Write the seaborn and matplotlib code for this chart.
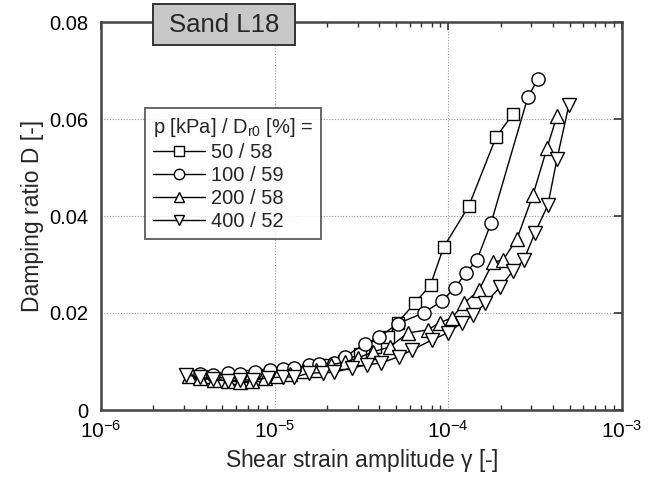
import matplotlib
matplotlib.use("Agg")
import matplotlib.pyplot as plt
from matplotlib.patches import Rectangle
import seaborn as sns
import pandas as pd
import numpy as np

# ---- data ----
labels = ["50 / 58", "100 / 59", "200 / 58", "400 / 52"]
markers = ["s", "o", "^", "v"]

x_50 = [3.4e-6, 4.3e-6, 5.5e-6, 6.8e-6, 8.5e-6, 1.05e-5, 1.3e-5, 1.6e-5, 2.0e-5, 2.5e-5,
        3.1e-5, 3.8e-5, 4.5e-5, 5.1e-5, 6.4e-5, 7.9e-5, 9.4e-5, 1.31e-4, 1.88e-4, 2.35e-4]
y_50 = [0.0070, 0.0068, 0.0065, 0.0070, 0.0072, 0.0075, 0.0080, 0.0085, 0.0092, 0.0102,
        0.0115, 0.0130, 0.0150, 0.0180, 0.0220, 0.0258, 0.0336, 0.0420, 0.0562, 0.0610]

x_100 = [3.7e-6, 4.4e-6, 5.4e-6, 6.3e-6, 7.7e-6, 9.4e-6, 1.12e-5, 1.3e-5, 1.58e-5, 1.8e-5,
         2.2e-5, 2.54e-5, 3.3e-5, 4.0e-5, 5.1e-5, 7.2e-5, 9.2e-5, 1.09e-4, 1.26e-4, 1.46e-4,
         1.76e-4, 2.87e-4, 3.28e-4]
y_100 = [0.0074, 0.0072, 0.0076, 0.0075, 0.0078, 0.0082, 0.0085, 0.0087, 0.0093, 0.0095,
         0.0097, 0.0110, 0.0136, 0.0150, 0.0178, 0.0200, 0.0225, 0.0252, 0.0282, 0.0309,
         0.0385, 0.0645, 0.0682]

x_200 = [3.2e-6, 3.7e-6, 4.5e-6, 5.4e-6, 6.3e-6, 7.4e-6, 8.8e-6, 1.03e-5, 1.22e-5, 1.45e-5,
         1.73e-5, 2.1e-5, 2.54e-5, 3.0e-5, 3.7e-5, 4.6e-5, 5.85e-5, 7.6e-5, 8.9e-5, 1.05e-4,
         1.23e-4, 1.5e-4, 1.81e-4, 2.06e-4, 2.48e-4, 3.07e-4, 3.7e-4, 4.22e-4]
y_200 = [0.0070, 0.0066, 0.0062, 0.0060, 0.0058, 0.0060, 0.0066, 0.0070, 0.0074, 0.0080,
         0.0082, 0.0093, 0.0099, 0.0107, 0.0120, 0.0130, 0.0159, 0.0165, 0.0180, 0.0190,
         0.0220, 0.0247, 0.0305, 0.0309, 0.0352, 0.0443, 0.0540, 0.0606]

x_400 = [3.1e-6, 3.7e-6, 4.4e-6, 5.4e-6, 6.3e-6, 7.5e-6, 9.1e-6, 1.12e-5, 1.3e-5, 1.58e-5,
         1.9e-5, 2.2e-5, 2.8e-5, 3.4e-5, 4.1e-5, 5.2e-5, 6.2e-5, 8.0e-5, 9.9e-5, 1.2e-4,
         1.39e-4, 1.63e-4, 1.98e-4, 2.35e-4, 2.72e-4, 3.15e-4, 3.74e-4, 4.22e-4, 4.94e-4]
y_400 = [0.0072, 0.0068, 0.0064, 0.0060, 0.0062, 0.0062, 0.0066, 0.0068, 0.0068, 0.0076,
         0.0077, 0.0078, 0.0087, 0.0093, 0.0097, 0.0110, 0.0124, 0.0144, 0.0159, 0.0180,
         0.0196, 0.0220, 0.0253, 0.0286, 0.0309, 0.0365, 0.0422, 0.0517, 0.0628]

series = [(x_50, y_50), (x_100, y_100), (x_200, y_200), (x_400, y_400)]
msizes = {"s": 9.0, "o": 9.5, "^": 10.5, "v": 10.5}

sns.set_theme(style="white")
plt.rcParams["font.family"] = ["Liberation Sans", "DejaVu Sans"]
plt.rcParams["mathtext.fontset"] = "custom"
plt.rcParams["mathtext.rm"] = "Liberation Sans"
plt.rcParams["mathtext.it"] = "Liberation Sans"

fig = plt.figure(figsize=(6.56, 4.79), dpi=100)
ax = fig.add_axes([101 / 656, 69 / 479, 521 / 656, 388 / 479])

for (xs, ys), lab, mk in zip(series, labels, markers):
    df = pd.DataFrame({"x": xs, "y": ys})
    sns.lineplot(data=df, x="x", y="y", ax=ax, color="black", linewidth=1.0,
                 marker=mk, markersize=msizes[mk],
                 markerfacecolor="white", markeredgecolor="black",
                 markeredgewidth=1.0, estimator=None, sort=False, label=lab)

ax.set_xscale("log")
ax.set_xlim(1e-6, 1e-3)
ax.set_ylim(0, 0.08)
ax.set_yticks([0, 0.02, 0.04, 0.06, 0.08])
ax.set_yticklabels(["0", "0.02", "0.04", "0.06", "0.08"])
ax.set_xticks([1e-6, 1e-5, 1e-4, 1e-3])
ax.set_xticklabels([r"$10^{-6}$", r"$10^{-5}$", r"$10^{-4}$", r"$10^{-3}$"])
ax.xaxis.set_minor_locator(matplotlib.ticker.LogLocator(base=10, subs=np.arange(2, 10), numticks=20))
ax.xaxis.set_minor_formatter(matplotlib.ticker.NullFormatter())

ax.grid(True, which="major", linestyle=(0, (1, 1.5)), color="#999999", linewidth=0.8)
ax.tick_params(axis="both", which="major", direction="in", length=6, width=1.2,
               top=True, right=True, colors="#333333", labelcolor="black")
ax.tick_params(axis="y", which="major", labelsize=14.5, pad=9)
ax.tick_params(axis="x", which="major", labelsize=15, pad=7)
ax.tick_params(axis="x", which="minor", direction="in", length=3.5, width=1.0,
               top=True, bottom=True, colors="#333333")
for sp in ax.spines.values():
    sp.set_color("#444444")
    sp.set_linewidth(1.8)

ax.set_xlabel(r"Shear strain amplitude $\gamma$ [-]", fontsize=16.5, labelpad=4)
ax.set_ylabel("Damping ratio D [-]", fontsize=16.5, labelpad=4)

leg = ax.legend(title=r"p [kPa] / D$_{\mathrm{r0}}$ [%] =", loc="upper left",
                bbox_to_anchor=((145 - 101) / 521, (410 - 108) / 388),
                frameon=True, fancybox=False, edgecolor="#333333",
                fontsize=14.5, title_fontsize=14.5, handlelength=2.6,
                handletextpad=0.3, labelspacing=0.2, borderpad=0.4, borderaxespad=0)
leg.get_frame().set_linewidth(1.3)
leg._legend_box.align = "left"
for h in leg.legend_handles:
    h.set_markersize(7.5)

# title box "Sand L18"
fig.patches.append(Rectangle((153 / 656, 1 - 45 / 479), 142 / 656, 41 / 479,
                             transform=fig.transFigure, facecolor="#c8c8c8",
                             edgecolor="#333333", linewidth=1.4, zorder=10))
fig.text(224 / 656, 1 - 25 / 479, "Sand L18", fontsize=18.5, ha="center", va="center",
         zorder=11)

fig.savefig("out.png", dpi=100)
